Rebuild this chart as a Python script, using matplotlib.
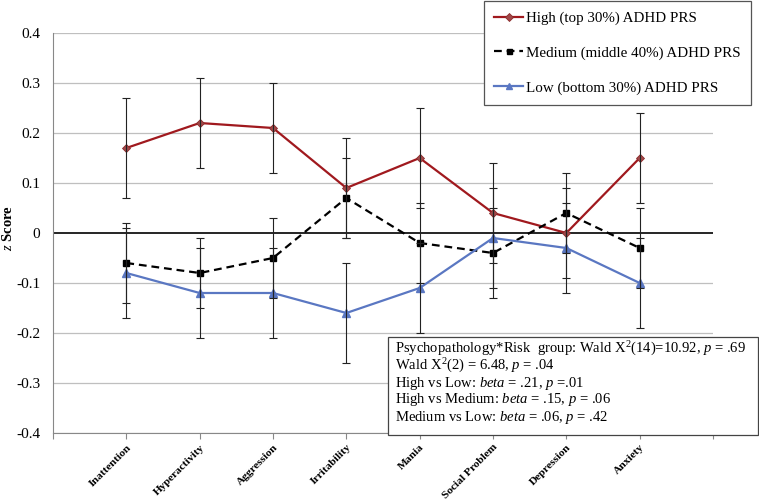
import matplotlib
matplotlib.use("Agg")
import matplotlib.pyplot as plt
from matplotlib.patches import Rectangle

plt.rcParams['font.family'] = ['Liberation Serif', 'DejaVu Serif']
plt.rcParams['mathtext.fontset'] = 'custom'
plt.rcParams['mathtext.rm'] = 'Liberation Serif'
plt.rcParams['mathtext.it'] = 'Liberation Serif:italic'
plt.rcParams['mathtext.bf'] = 'Liberation Serif:bold'

categories = ["Inattention", "Hyperactivity", "Aggression", "Irritability",
              "Mania", "Social Problem", "Depression", "Anxiety"]
high = [0.17, 0.22, 0.21, 0.09, 0.15, 0.04, 0.00, 0.15]
high_err = [0.10, 0.09, 0.09, 0.10, 0.10, 0.10, 0.09, 0.09]
medium = [-0.06, -0.08, -0.05, 0.07, -0.02, -0.04, 0.04, -0.03]
medium_err = [0.08, 0.07, 0.08, 0.08, 0.08, 0.09, 0.08, 0.08]
low = [-0.08, -0.12, -0.12, -0.16, -0.11, -0.01, -0.03, -0.10]
low_err = [0.09, 0.09, 0.09, 0.10, 0.09, 0.10, 0.09, 0.09]
yticks = [-0.4, -0.3, -0.2, -0.1, 0, 0.1, 0.2, 0.3, 0.4]
ytick_labels = ["-0.4", "-0.3", "-0.2", "-0.1", "0", "0.1", "0.2", "0.3", "0.4"]
legend_labels = ["High (top 30%) ADHD PRS", "Medium (middle 40%) ADHD PRS",
                 "Low (bottom 30%) ADHD PRS"]
stats_lines = [
    r"Psychopathology*Risk  group: Wald X$^2$(14)=10.92, $\it{p}$ = .69",
    r"Wald X$^2$(2) = 6.48, $\it{p}$ = .04",
    r"High vs Low: $\it{beta}$ = .21, $\it{p}$ =.01",
    r"High vs Medium: $\it{beta}$ = .15, $\it{p}$ = .06",
    r"Medium vs Low: $\it{beta}$ = .06, $\it{p}$ = .42",
]

W, H = 759, 503
fig = plt.figure(figsize=(W / 100, H / 100), dpi=100)
ax = fig.add_axes([53 / W, 1 - 433 / H, (713 - 53) / W, (433 - 33) / H])

x = list(range(1, len(categories) + 1))

red = "#A0191E"
blue = "#5A77C2"

for y in yticks:
    if y == 0:
        continue
    ax.axhline(y, color="#BFBFBF", lw=0.9, zorder=0)
ax.axhline(0, color="black", lw=1.2, zorder=1)

l1, = ax.plot(x, high, color=red, lw=1.6, marker="D", ms=4.5,
              mfc="#A0494A", mec="#8B2A2A", mew=0.6, zorder=3)
l2, = ax.plot(x, medium, color="black", lw=1.6, ls=(0, (3.5, 2.2)), marker="s",
              ms=4.5, mfc="black", mec="black", zorder=3)
l3, = ax.plot(x, low, color=blue, lw=1.6, marker="^", ms=5.5,
              mfc=blue, mec=blue, zorder=3)

for vals, errs in [(high, high_err), (medium, medium_err), (low, low_err)]:
    ax.errorbar(x, vals, yerr=errs, fmt="none", ecolor="#222222",
                elinewidth=0.8, capsize=2.6, capthick=0.8, zorder=4)

ax.set_xlim(0, 9)
ax.set_ylim(-0.4, 0.4)
ax.set_yticks(yticks)
ax.set_yticklabels(ytick_labels, fontsize=11)
ax.tick_params(axis="y", length=0, pad=9)
ax.set_xticks(range(0, 10))
ax.set_xticklabels([""] + categories + [""], rotation=45, ha="right",
                   rotation_mode="anchor", fontsize=8.2, fontweight="bold")
ax.tick_params(axis="x", length=4, color="#888888", pad=3)

for s in ["top", "right"]:
    ax.spines[s].set_visible(False)
ax.spines["left"].set_color("#888888")
ax.spines["bottom"].set_color("#888888")

fig.text(8 / W, 1 - 228 / H, r"$\it{z}$ Score", rotation=90, fontsize=10.5,
         fontweight="bold", ha="center", va="center")

leg = fig.legend([l1, l2, l3], legend_labels, loc="upper right",
                 bbox_to_anchor=(751 / W, 1 - 1 / H), borderaxespad=0,
                 fontsize=10.8, frameon=True, fancybox=False, framealpha=1,
                 edgecolor="#555555", handlelength=1.9, handletextpad=0.2,
                 labelspacing=1.4, borderpad=0.7, markerscale=0.8)
leg.get_frame().set_linewidth(0.9)

fig.patches.append(Rectangle((388 / W, 1 - 435 / H), (758 - 388) / W, (435 - 337) / H,
                             transform=fig.transFigure, facecolor="white",
                             edgecolor="#444444", lw=0.9, zorder=5))
for i, line in enumerate(stats_lines):
    fig.text(395 / W, 1 - (349 + i * 17) / H, line, fontsize=10.5,
             ha="left", va="center", zorder=6)

fig.savefig("out.png", dpi=100)
